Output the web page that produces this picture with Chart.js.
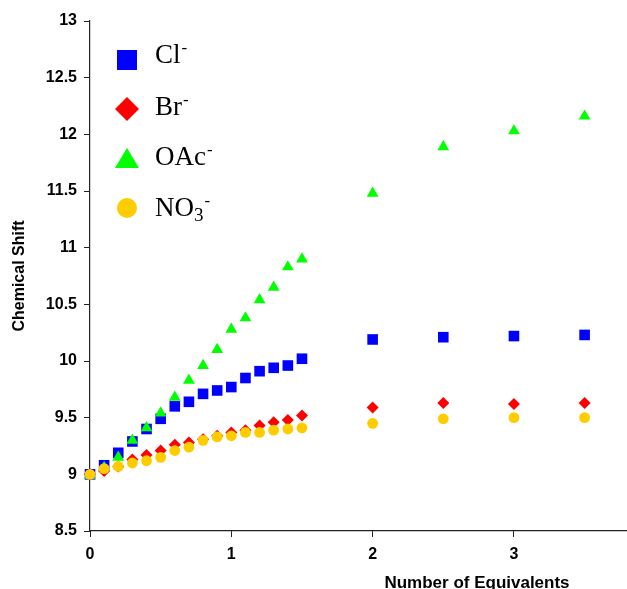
<!DOCTYPE html>
<html>
<head>
<meta charset="utf-8">
<script src="https://cdn.jsdelivr.net/npm/chart.js@4.4.1/dist/chart.umd.min.js"></script>
<style>
  html, body { margin: 0; padding: 0; background: #fff; overflow: hidden; }
  canvas { display: block; }
</style>
</head>
<body>
<canvas id="shiftChart" width="627" height="589"></canvas>
<script>
// equivalents of anion added
const equivalents = [0, 0.1, 0.2, 0.3, 0.4, 0.5, 0.6, 0.7, 0.8, 0.9, 1.0, 1.1, 1.2, 1.3, 1.4, 1.5, 2, 2.5, 3, 3.5];

// chemical shift (ppm) for each anion
const clShift  = [9.00, 9.08, 9.19, 9.29, 9.40, 9.49, 9.60, 9.64, 9.71, 9.74, 9.77, 9.85, 9.91, 9.94, 9.96, 10.02, 10.19, 10.21, 10.22, 10.23];
const brShift  = [9.00, 9.03, 9.07, 9.13, 9.17, 9.21, 9.26, 9.28, 9.31, 9.34, 9.37, 9.39, 9.43, 9.46, 9.48, 9.52, 9.59, 9.63, 9.62, 9.63];
const oacShift = [8.99, 9.06, 9.15, 9.30, 9.41, 9.54, 9.68, 9.83, 9.96, 10.10, 10.28, 10.38, 10.54, 10.65, 10.83, 10.90, 11.48, 11.89, 12.03, 12.16];
const no3Shift = [9.00, 9.05, 9.07, 9.10, 9.12, 9.15, 9.21, 9.24, 9.30, 9.33, 9.34, 9.37, 9.37, 9.39, 9.40, 9.41, 9.45, 9.49, 9.50, 9.50];

const xTicks = [0, 1, 2, 3];
const yTicks = [8.5, 9, 9.5, 10, 10.5, 11, 11.5, 12, 12.5, 13];

// legend text: main part, subscript, superscript
const anionNames = [
  { main: "Cl", sub: "", sup: "-" },
  { main: "Br", sub: "", sup: "-" },
  { main: "OAc", sub: "", sup: "-" },
  { main: "NO", sub: "3", sup: "-" },
];

const toPoints = (ys) => ys.map((y, i) => ({ x: equivalents[i], y: y }));

const axisFont = { family: "'Liberation Sans', Arial, sans-serif", weight: "bold", size: 16 };

// legend drawn by hand so the charges and subscript can be set
const anionLegend = {
  id: "anionLegend",
  afterDraw(chart) {
    const ctx = chart.ctx;
    const cx = 127;
    const rows = [60, 109, 159, 208];
    const baselines = [63, 115, 165, 216];
    chart.data.datasets.forEach((ds, i) => {
      const y = rows[i];
      ctx.save();
      ctx.fillStyle = ds.backgroundColor;
      ctx.beginPath();
      if (ds.pointStyle === "rect") {
        ctx.rect(cx - 10, y - 10, 20, 20);
      } else if (ds.pointStyle === "rectRot") {
        ctx.moveTo(cx, y - 12);
        ctx.lineTo(cx + 12, y);
        ctx.lineTo(cx, y + 12);
        ctx.lineTo(cx - 12, y);
      } else if (ds.pointStyle === "triangle") {
        ctx.moveTo(cx, y - 11);
        ctx.lineTo(cx + 12, y + 9);
        ctx.lineTo(cx - 12, y + 9);
      } else {
        ctx.arc(cx, y, 10, 0, Math.PI * 2);
      }
      ctx.closePath();
      ctx.fill();

      const name = anionNames[i];
      const base = baselines[i];
      let tx = 155;
      ctx.fillStyle = "#000";
      ctx.textBaseline = "alphabetic";
      ctx.font = "27px 'Liberation Serif', 'Times New Roman', serif";
      ctx.fillText(name.main, tx, base);
      tx += ctx.measureText(name.main).width;
      if (name.sub) {
        ctx.font = "19px 'Liberation Serif', 'Times New Roman', serif";
        ctx.fillText(name.sub, tx, base + 5);
        tx += ctx.measureText(name.sub).width;
      }
      if (name.sup) {
        ctx.font = "17px 'Liberation Serif', 'Times New Roman', serif";
        ctx.fillText(name.sup, tx + 1, base - 10);
      }
      ctx.restore();
    });
  },
};

// x axis title sits right of centre
const xTitle = {
  id: "xTitle",
  afterDraw(chart) {
    const ctx = chart.ctx;
    ctx.save();
    ctx.fillStyle = "#000";
    ctx.font = "bold 17px 'Liberation Sans', Arial, sans-serif";
    ctx.textAlign = "center";
    ctx.textBaseline = "alphabetic";
    ctx.fillText("Number of Equivalents", 477, 588);
    ctx.restore();
  },
};

const data = {
  datasets: [
    { label: "Cl-", data: toPoints(clShift), pointStyle: "rect", pointRadius: 7.5, backgroundColor: "#0000ff", order: 4 },
    { label: "Br-", data: toPoints(brShift), pointStyle: "rectRot", pointRadius: 6, backgroundColor: "#ff0000", order: 3 },
    { label: "OAc-", data: toPoints(oacShift), pointStyle: "triangle", pointRadius: 6.8, backgroundColor: "#00ff00", order: 2 },
    { label: "NO3-", data: toPoints(no3Shift), pointStyle: "circle", pointRadius: 5.4, backgroundColor: "#ffcc00", order: 1 },
  ],
};
data.datasets.forEach((ds) => {
  ds.pointBorderWidth = 0;
  ds.pointHoverRadius = ds.pointRadius;
  ds.showLine = false;
  ds.clip = false;
});

const config = {
  type: "scatter",
  data: data,
  options: {
    responsive: false,
    animation: false,
    layout: { autoPadding: false, padding: { top: 21, right: 0, left: 0, bottom: 0 } },
    plugins: { legend: { display: false }, tooltip: { enabled: false } },
    scales: {
      x: {
        type: "linear",
        min: 0,
        max: 3.8,
        afterBuildTicks: (s) => { s.ticks = xTicks.map((v) => ({ value: v })); },
        afterFit: (s) => { s.height = 58; s.paddingRight = 0; s.paddingLeft = 0; },
        grid: { drawOnChartArea: false, drawTicks: true, tickLength: 6, color: "#222" },
        border: { display: true, color: "#222", width: 1.2 },
        ticks: { font: axisFont, color: "#000", padding: 8, maxRotation: 0, callback: (v) => String(v) },
      },
      y: {
        type: "linear",
        min: 8.5,
        max: 13,
        afterBuildTicks: (s) => { s.ticks = yTicks.map((v) => ({ value: v })); },
        afterFit: (s) => { s.width = 90; },
        grid: { drawOnChartArea: false, drawTicks: true, tickLength: 6, color: "#222" },
        border: { display: true, color: "#222", width: 1.2 },
        ticks: { font: axisFont, color: "#000", padding: 7, callback: (v) => String(v) },
        title: {
          display: true,
          text: "Chemical Shift",
          color: "#000",
          font: { family: "'Liberation Sans', Arial, sans-serif", weight: "bold", size: 16 },
          padding: { top: 10, bottom: 0 },
        },
      },
    },
  },
  plugins: [anionLegend, xTitle],
};

const shiftChart = new Chart(document.getElementById("shiftChart"), config);
</script>
</body>
</html>
